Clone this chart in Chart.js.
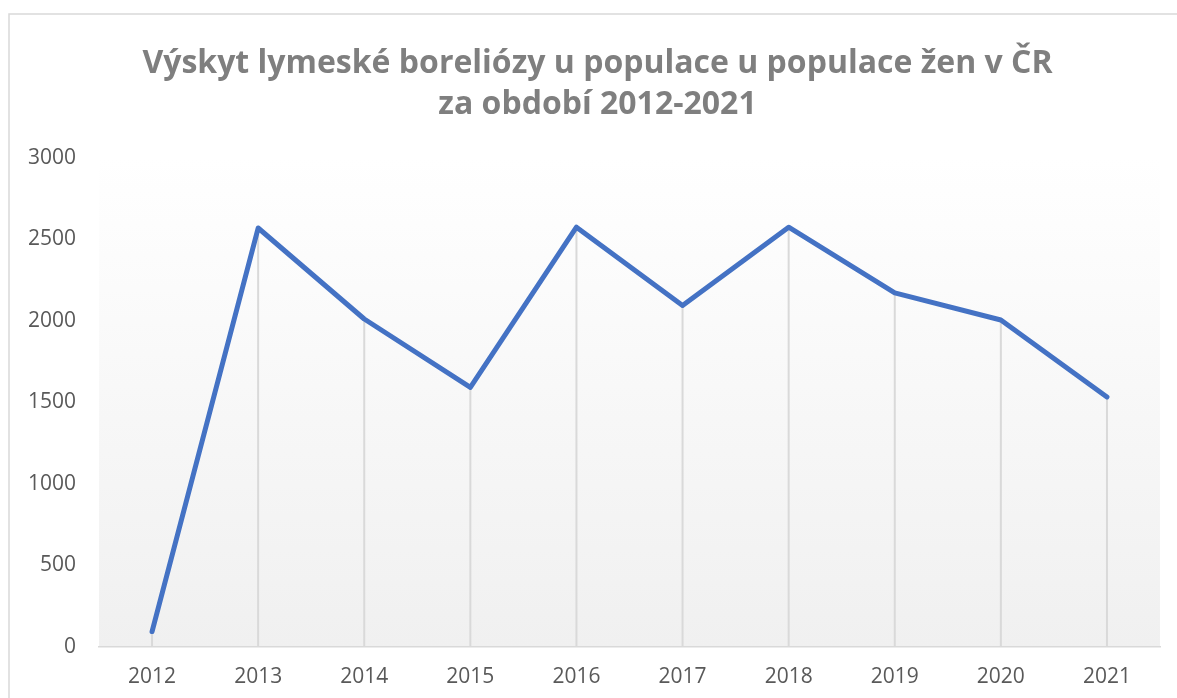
<!DOCTYPE html>
<html>
<head>
<meta charset="utf-8">
<script src="https://cdn.jsdelivr.net/npm/chart.js@4"></script>
<style>
  html, body { margin: 0; padding: 0; background: #fff; }
  #wrap { width: 1177px; height: 698px; position: relative; }
</style>
</head>
<body>
<div id="wrap"><canvas id="graf"></canvas></div>
<script>
// roky a počty případů
const roky = ['2012', '2013', '2014', '2015', '2016', '2017', '2018', '2019', '2020', '2021'];
const pripady = [95, 2570, 2012, 1592, 2575, 2095, 2575, 2172, 2006, 1534];
const osaY = [0, 500, 1000, 1500, 2000, 2500, 3000];

const sedaText = '#595959';

// pozadí plochy grafu + rámeček
const pozadi = {
    id: 'pozadi',
    afterLayout(chart) {
        // nadpis je v originále vystředěný na celý rámeček
        if (chart.titleBlock) chart.titleBlock.left += 35;
    },
    beforeDraw(chart) {
        const { ctx, chartArea: a } = chart;
        ctx.save();
        ctx.strokeStyle = '#d9d9d9';
        ctx.lineWidth = 1.5;
        ctx.strokeRect(9, 14, chart.width + 20, chart.height + 20);
        const g = ctx.createLinearGradient(0, a.top, 0, a.bottom);
        g.addColorStop(0, '#ffffff');
        g.addColorStop(1, '#f0f0f0');
        ctx.fillStyle = g;
        ctx.fillRect(a.left, a.top, a.right - a.left, a.bottom - a.top);
        ctx.restore();
    }
};

// svislé spojnice bodů k ose
const spojnice = {
    id: 'spojnice',
    beforeDatasetsDraw(chart) {
        const { ctx, chartArea: a } = chart;
        const body = chart.getDatasetMeta(0).data;
        ctx.save();
        ctx.strokeStyle = '#d9d9d9';
        ctx.lineWidth = 2;
        body.forEach(b => {
            ctx.beginPath();
            ctx.moveTo(b.x, b.y);
            ctx.lineTo(b.x, a.bottom);
            ctx.stroke();
        });
        ctx.restore();
    }
};

new Chart(document.getElementById('graf'), {
    type: 'line',
    data: {
        labels: roky,
        datasets: [{
            data: pripady,
            borderColor: '#4472c4',
            borderWidth: 5,
            borderCapStyle: 'round',
            borderJoinStyle: 'round',
            pointRadius: 0,
            tension: 0
        }]
    },
    options: {
        responsive: true,
        maintainAspectRatio: false,
        animation: false,
        layout: { padding: { left: 0, right: 17, top: 0, bottom: 0 } },
        plugins: {
            legend: { display: false },
            tooltip: { enabled: false },
            title: {
                display: true,
                text: ['Výskyt lymeské boreliózy u populace u populace žen v ČR', 'za období 2012-2021'],
                color: '#7f7f7f',
                font: { family: 'Open Sans', size: 32, weight: 'bold', lineHeight: 1.28 },
                padding: { top: 43, bottom: 33 }
            }
        },
        scales: {
            x: {
                offset: true,
                grid: { display: false, drawTicks: false },
                border: { display: true, color: '#d9d9d9', width: 1.5 },
                ticks: { color: sedaText, font: { family: 'Open Sans', size: 21 }, padding: 17 },
                afterFit(s) { s.height = 51; }
            },
            y: {
                min: 0,
                max: 3000,
                afterBuildTicks(s) { s.ticks = osaY.map(v => ({ value: v })); },
                grid: { display: false, drawTicks: false },
                border: { display: false },
                ticks: {
                    color: sedaText,
                    font: { family: 'Open Sans', size: 21 },
                    padding: 23,
                    callback: v => String(v)
                },
                afterFit(s) { s.width = 99; }
            }
        }
    },
    plugins: [pozadi, spojnice]
});
</script>
</body>
</html>
